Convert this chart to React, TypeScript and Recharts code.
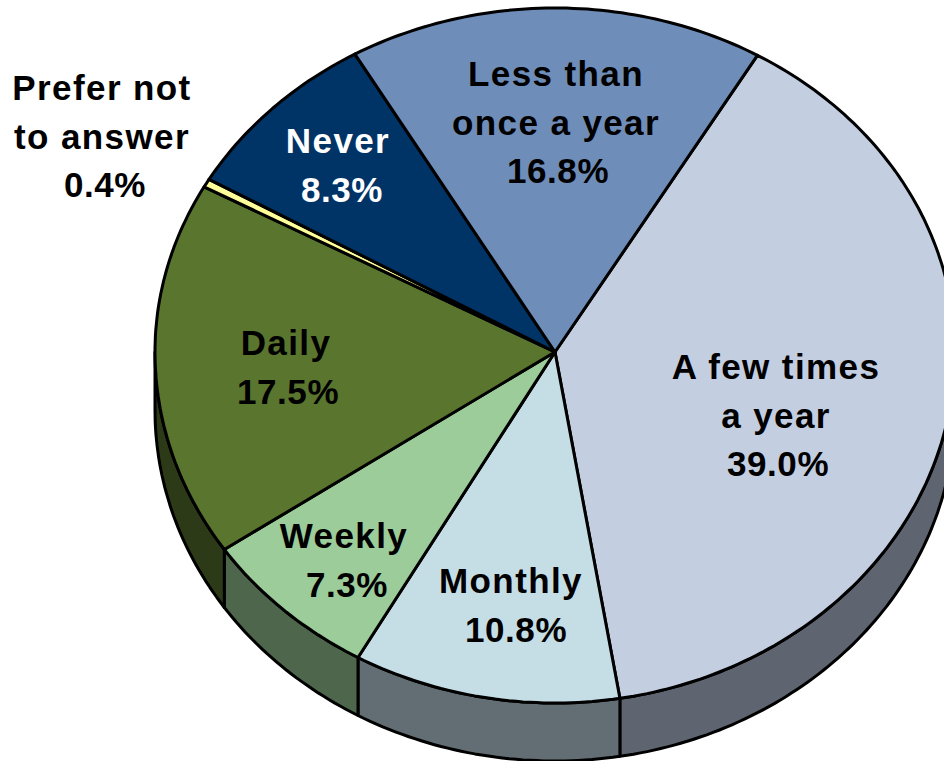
import { PieChart, Pie, Cell } from 'recharts';

const categories = ['A few times a year', 'Monthly', 'Weekly', 'Daily', 'Prefer not to answer', 'Never', 'Less than once a year'];
const shares = [39.0, 10.8, 7.3, 17.5, 0.4, 8.3, 16.8];
const topColors = ['#C3CEE1', '#C5DDE5', '#9BCC99', '#5A752E', '#FFFF99', '#003366', '#6F8DB9'];
const wallColors = ['#5F6570', '#626E73', '#4D664C', '#2D3A17', '#66663D', '#001F3D', '#43556F'];
const labelLines = [['A few times', 'a year'], ['Monthly'], ['Weekly'], ['Daily'], ['Prefer not', 'to answer'], ['Never'], ['Less than', 'once a year']];

// label anchors, picked by eye: centre x of the words, centre x of the percent, first baseline
const labelX = [776, 511, 344, 286, 102, 338, 556];
const percentX = [778, 516, 347, 288, 105, 342, 558];
const labelY = [379, 593, 548, 355, 100, 153, 86];

const tableData = categories.map((name, i) => ({ name, value: shares[i] }));

const CX = 555;
const CY = 352;
const RADIUS = 400;
const RY_BACK = 344;
const RY_FRONT = 351;
const DEPTH = 58;
const LINE_HEIGHT = 48.5;
const START_ANGLE = 59.6;

// the pie is tilted, so every angle lands on an ellipse instead of a circle
function ellipsePoint(cx: number, cy: number, r: number, deg: number) {
  const a = (deg * Math.PI) / 180;
  const s = Math.sin(a);
  const ry = (s > 0 ? RY_BACK : RY_FRONT) * (r / RADIUS);
  return [cx + r * Math.cos(a), cy - ry * s];
}

function arcPoints(cx: number, cy: number, r: number, from: number, to: number) {
  const steps = Math.max(2, Math.ceil(Math.abs(to - from)));
  const pts: number[][] = [];
  for (let i = 0; i <= steps; i++) {
    pts.push(ellipsePoint(cx, cy, r, from + ((to - from) * i) / steps));
  }
  return pts;
}

const toPath = (pts: number[][]) =>
  pts.map((p, i) => `${i ? 'L' : 'M'}${p[0].toFixed(1)},${p[1].toFixed(1)}`).join(' ') + ' Z';

function TopSlice(props: any) {
  const { cx, cy, outerRadius, startAngle, endAngle, fill } = props;
  const pts = [[cx, cy], ...arcPoints(cx, cy, outerRadius, startAngle, endAngle)];
  return <path d={toPath(pts)} fill={fill} stroke="#000" strokeWidth={3} strokeLinejoin="round" />;
}

function WallSlice(props: any) {
  const { cx, cy, outerRadius, startAngle, endAngle, fill } = props;
  // only the front half of the rim shows
  const from = Math.min(startAngle, 0);
  const to = Math.max(endAngle, -180);
  if (from <= to) return <g />;
  const upper = arcPoints(cx, cy, outerRadius, from, to);
  const lower = arcPoints(cx, cy + DEPTH, outerRadius, to, from);
  return <path d={toPath([...upper, ...lower])} fill={fill} stroke="#000" strokeWidth={3} strokeLinejoin="round" />;
}

function renderLabel(props: any) {
  const i = props.index;
  const words = labelLines[i];
  return (
    <text
      key={i}
      x={labelX[i]}
      y={labelY[i]}
      textAnchor="middle"
      fill={categories[i] === 'Never' ? '#fff' : '#000'}
      fontFamily="'Liberation Sans', Arial, sans-serif"
      fontWeight="bold"
      fontSize={35}
    >
      {words.map((line, n) => (
        <tspan key={n} x={labelX[i]} y={labelY[i] + n * LINE_HEIGHT} letterSpacing={1.4}>
          {line}
        </tspan>
      ))}
      <tspan x={percentX[i]} y={labelY[i] + words.length * LINE_HEIGHT} letterSpacing={0.6}>
        {`${shares[i].toFixed(1)}%`}
      </tspan>
    </text>
  );
}

export default function App() {
  return (
    <div style={{ position: 'absolute', left: 0, top: 0, width: 944, height: 761, overflow: 'hidden' }}>
      <PieChart width={944} height={761} margin={{ top: 0, right: 0, bottom: 0, left: 0 }}>
        <Pie
          data={tableData}
          dataKey="value"
          nameKey="name"
          cx={CX}
          cy={CY}
          outerRadius={RADIUS}
          startAngle={START_ANGLE}
          endAngle={START_ANGLE - 360}
          isAnimationActive={false}
          shape={WallSlice}
          label={false}
          labelLine={false}
        >
          {tableData.map((d, i) => (
            <Cell key={d.name} fill={wallColors[i]} />
          ))}
        </Pie>
        <Pie
          data={tableData}
          dataKey="value"
          nameKey="name"
          cx={CX}
          cy={CY}
          outerRadius={RADIUS}
          startAngle={START_ANGLE}
          endAngle={START_ANGLE - 360}
          isAnimationActive={false}
          shape={TopSlice}
          label={renderLabel}
          labelLine={false}
        >
          {tableData.map((d, i) => (
            <Cell key={d.name} fill={topColors[i]} />
          ))}
        </Pie>
      </PieChart>
    </div>
  );
}
